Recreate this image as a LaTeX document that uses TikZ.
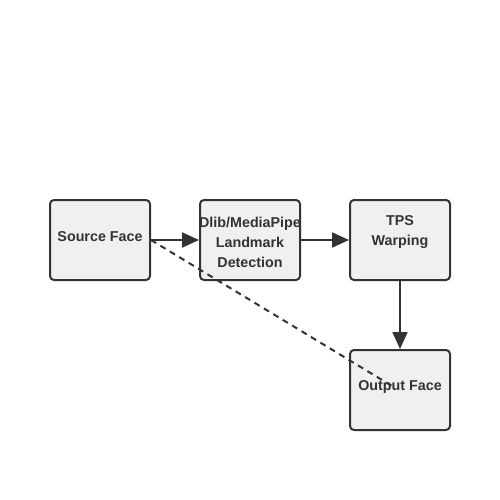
\documentclass[tikz,border=0pt]{standalone}
\usepackage{fontspec}
\setmainfont{Liberation Sans}
\usetikzlibrary{arrows.meta}
\definecolor{boxfill}{HTML}{F0F0F0}
\definecolor{ink}{HTML}{333333}
\tikzset{
  box/.style={draw=ink, fill=boxfill, line width=2pt, rounded corners=4pt,
    minimum width=100pt, minimum height=80pt, inner sep=0pt},
  txt/.style={text=ink, font=\bfseries\fontsize{14.3}{20}\selectfont, align=center, inner sep=0pt},
  flow/.style={draw=ink, line width=2pt, -{Triangle[length=17pt,width=15pt]}},
  link/.style={draw=ink, line width=2pt, dash pattern=on 6pt off 5pt}
}
\begin{document}
\begin{tikzpicture}[x=1pt, y=-1pt]
  \useasboundingbox (0,0) rectangle (500,500);

  % Boxes
  \node[box] (src) at (100,240) {};
  \node[box] (lmk) at (250,240) {};
  \node[box] (tps) at (400,240) {};
  \node[box] (out) at (400,390) {};

  \node[txt] (srct) at (100,237) {Source Face};
  \node[txt] (lmkt) at (250,242) {Dlib/MediaPipe\\Landmark\\Detection};
  \node[txt] (tpst) at (400,232) {TPS\\Warping};

  % Arrows
  \draw[flow] (src.east) -- (lmk.west);
  \draw[flow] (lmk.east) -- (tps.west);
  \draw[flow] (tps.south) -- (out.north);

  \node[txt] (outt) at (400,387) {Output Face};

  \coordinate (dend) at (392,386);
  \draw[link] (src.east) -- (dend);
\end{tikzpicture}
\end{document}
